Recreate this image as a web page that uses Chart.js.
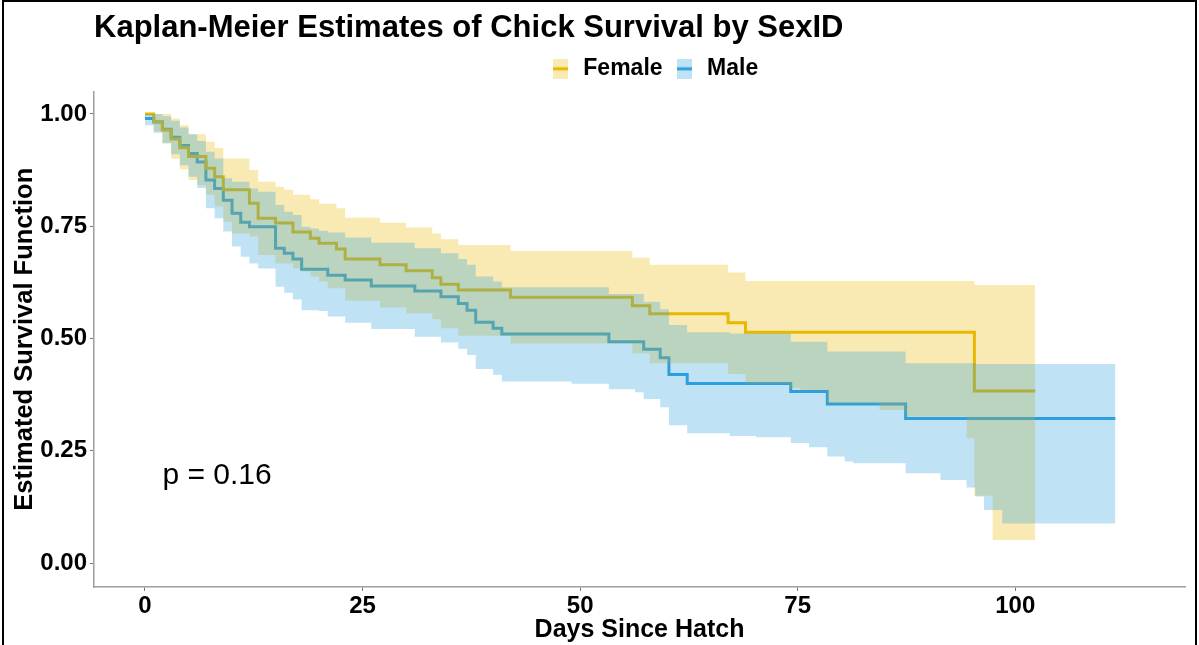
<!DOCTYPE html>
<html><head><meta charset="utf-8">
<script src="https://cdn.jsdelivr.net/npm/chart.js@4.4.1/dist/chart.umd.min.js"></script>
<style>
html,body{margin:0;padding:0;background:#fff;}
#wrap{position:relative;width:1199px;height:645px;overflow:hidden;background:#fff;}
#c{position:absolute;left:0;top:0;}
#frame{position:absolute;left:2px;top:0;width:1195px;height:660px;border:2px solid #000;box-sizing:border-box;pointer-events:none;}
</style></head><body>
<div id="wrap"><canvas id="c" width="1199" height="645"></canvas><div id="frame"></div></div>
<script>
const titleText = 'Kaplan-Meier Estimates of Chick Survival by SexID';
const xTitle = 'Days Since Hatch';
const yTitle = 'Estimated Survival Function';
const seriesNames = ['Female', 'Male'];
const pValueText = 'p = 0.16';

const xTicks = [0, 25, 50, 75, 100];
const yTicks = [0, 0.25, 0.5, 0.75, 1];

const femaleDays  = [0,1,2,3,4,5,6,7,8,9,10,12,13,15,16,17,18,19,20,21,22,23,27,30,33,34,36,42,56,58,67,69,74,75.3,78.4,84.4,87.4,94.4,95.3,97.4,102.3];
const femaleSurv  = [1.000,0.983,0.964,0.944,0.925,0.905,0.905,0.879,0.860,0.831,0.831,0.801,0.768,0.757,0.757,0.737,0.737,0.723,0.712,0.712,0.699,0.677,0.664,0.651,0.635,0.621,0.608,0.592,0.573,0.555,0.535,0.514,0.514,0.514,0.514,0.514,0.514,0.514,0.383,0.383,0.383];
const femaleUpper = [1.000,1.000,1.000,0.990,0.975,0.955,0.955,0.938,0.924,0.901,0.901,0.875,0.849,0.838,0.831,0.820,0.820,0.810,0.800,0.800,0.790,0.769,0.758,0.747,0.734,0.721,0.708,0.695,0.680,0.664,0.647,0.628,0.628,0.628,0.628,0.628,0.628,0.628,0.619,0.619,0.619];
const femaleLower = [1.000,0.961,0.935,0.900,0.877,0.853,0.842,0.820,0.794,0.760,0.734,0.727,0.686,0.667,0.667,0.656,0.649,0.638,0.627,0.612,0.612,0.584,0.569,0.556,0.543,0.523,0.506,0.489,0.467,0.445,0.421,0.400,0.389,0.385,0.356,0.341,0.326,0.278,0.150,0.051,0.051];

const maleDays  = [0,1,2,3,4,5,6,7,8,9,10,11,12,13,15,16,17,18,19,20,21,23,26,31,34,36,37,38,40,41,49,53.3,56.3,57.3,59.2,60.2,62.3,67.2,70.2,74.2,76.3,78.4,80.4,81.4,87.4,91.4,94.4,95.4,96.4,98.5,111.5];
const maleSurv  = [0.990,0.982,0.966,0.948,0.930,0.912,0.893,0.853,0.834,0.808,0.779,0.759,0.749,0.749,0.701,0.690,0.677,0.654,0.654,0.654,0.641,0.630,0.617,0.606,0.593,0.578,0.563,0.536,0.523,0.510,0.510,0.493,0.493,0.476,0.457,0.420,0.400,0.400,0.400,0.382,0.382,0.354,0.354,0.354,0.322,0.322,0.322,0.322,0.322,0.322,0.322];
const maleUpper = [1.000,1.000,0.995,0.985,0.970,0.955,0.940,0.916,0.901,0.857,0.849,0.849,0.834,0.827,0.797,0.782,0.775,0.749,0.745,0.740,0.736,0.725,0.713,0.701,0.690,0.677,0.664,0.638,0.627,0.614,0.614,0.599,0.599,0.582,0.565,0.530,0.514,0.511,0.511,0.493,0.493,0.471,0.471,0.471,0.445,0.445,0.445,0.443,0.443,0.443,0.443];
const maleLower = [0.975,0.958,0.935,0.910,0.886,0.860,0.835,0.790,0.768,0.738,0.705,0.682,0.667,0.656,0.615,0.602,0.587,0.563,0.563,0.561,0.549,0.535,0.521,0.504,0.491,0.477,0.463,0.432,0.419,0.404,0.399,0.387,0.380,0.365,0.347,0.307,0.289,0.283,0.280,0.267,0.258,0.237,0.226,0.222,0.200,0.185,0.168,0.148,0.118,0.088,0.088];

const FEMALE = '#E7B800', MALE = '#2E9FDF';
const FEMALE_FILL = 'rgba(231,184,0,0.3)', MALE_FILL = 'rgba(46,159,223,0.3)';

function pts(xs, ys) { return xs.map((x, i) => ({x: x, y: ys[i]})); }
function makeKey(lineColor, fillColor) {
  const c = document.createElement('canvas');
  c.width = 15; c.height = 20;
  const g = c.getContext('2d');
  g.fillStyle = fillColor; g.fillRect(0, 0, 15, 20);
  g.fillStyle = lineColor; g.fillRect(0, 8.5, 15, 3);
  return c;
}
const keys = [makeKey(FEMALE, FEMALE_FILL), makeKey(MALE, MALE_FILL)];

Chart.defaults.font.family = '"Liberation Sans", Arial, sans-serif';
Chart.defaults.color = '#000';

const bandBase = {pointRadius: 0, borderWidth: 0, borderColor: 'rgba(0,0,0,0)', stepped: true, tension: 0};

const pPlugin = {
  id: 'pvalue',
  afterLayout(chart) {
    if (chart.legend) { chart.legend.left += 14; chart.legend.right += 14; }
  },
  afterDatasetsDraw(chart) {
    const {ctx, scales} = chart;
    ctx.save();
    ctx.font = '30px "Liberation Sans", Arial, sans-serif';
    ctx.fillStyle = '#000';
    ctx.textAlign = 'left';
    ctx.textBaseline = 'middle';
    ctx.fillText(pValueText, scales.x.getPixelForValue(2.0), scales.y.getPixelForValue(0.195));
    ctx.restore();
  }
};

new Chart(document.getElementById('c'), {
  type: 'line',
  data: {
    datasets: [
      {label: seriesNames[0], data: pts(femaleDays, femaleSurv), borderColor: FEMALE, backgroundColor: FEMALE_FILL, borderWidth: 3, pointRadius: 0, stepped: true, fill: false, order: 10},
      {label: seriesNames[1], data: pts(maleDays, maleSurv), borderColor: MALE, backgroundColor: MALE_FILL, borderWidth: 3, pointRadius: 0, stepped: true, fill: false, order: 10},
      Object.assign({label: 'Female upper', data: pts(femaleDays, femaleUpper), backgroundColor: FEMALE_FILL, fill: '+1', order: 1}, bandBase),
      Object.assign({label: 'Female lower', data: pts(femaleDays, femaleLower), backgroundColor: FEMALE_FILL, fill: false, order: 1}, bandBase),
      Object.assign({label: 'Male upper', data: pts(maleDays, maleUpper), backgroundColor: MALE_FILL, fill: '+1', order: 0}, bandBase),
      Object.assign({label: 'Male lower', data: pts(maleDays, maleLower), backgroundColor: MALE_FILL, fill: false, order: 0}, bandBase)
    ]
  },
  options: {
    responsive: false,
    animation: false,
    layout: {padding: {left: 0, right: 14, top: 0, bottom: 0}},
    plugins: {
      title: {display: true, text: titleText, align: 'start', fullSize: false, color: '#000',
        font: {size: 31, weight: 'bold'}, padding: {top: 10, bottom: 0.1}},
      subtitle: {display: true, text: '', weight: 100, fullSize: false, font: {size: 1}, padding: {top: 0, bottom: 0}},
      legend: {
        display: true, position: 'top', fullSize: false, align: 'center',
        labels: {
          usePointStyle: true, padding: 10, color: '#000',
          font: {size: 23, weight: 'bold'},
          generateLabels: (chart) => [0, 1].map(i => ({
            text: chart.data.datasets[i].label, pointStyle: keys[i],
            fillStyle: chart.data.datasets[i].backgroundColor, strokeStyle: chart.data.datasets[i].borderColor,
            lineWidth: 0, hidden: false, datasetIndex: i, fontColor: '#000'
          }))
        }
      },
      tooltip: {enabled: false}
    },
    scales: {
      x: {
        type: 'linear', min: -5.86, max: 119.5,
        afterFit: (s) => { s.height = 58; },
        afterBuildTicks: (s) => { s.ticks = xTicks.map(v => ({value: v})); },
        ticks: {color: '#000', font: {size: 24, weight: 'bold'}, padding: 1, maxRotation: 0},
        grid: {display: true, drawOnChartArea: false, drawTicks: true, tickLength: 4, color: '#777'},
        border: {display: true, color: '#a0a0a0', width: 1.5},
        title: {display: true, text: xTitle, color: '#000', font: {size: 25, weight: 'bold'}, padding: {top: 0, bottom: 0}}
      },
      y: {
        type: 'linear', min: -0.0534, max: 1.05,
        afterFit: (s) => { s.width = 94; },
        afterBuildTicks: (s) => { s.ticks = yTicks.map(v => ({value: v})); },
        ticks: {color: '#000', font: {size: 24, weight: 'bold'}, padding: 3, callback: (v) => Number(v).toFixed(2)},
        grid: {display: true, drawOnChartArea: false, drawTicks: true, tickLength: 4, color: '#777'},
        border: {display: true, color: '#a0a0a0', width: 1.5},
        title: {display: true, text: yTitle, color: '#000', font: {size: 25.5, weight: 'bold'}, padding: {top: 10, bottom: 0}}
      }
    }
  },
  plugins: [pPlugin]
});
</script>
</body></html>
